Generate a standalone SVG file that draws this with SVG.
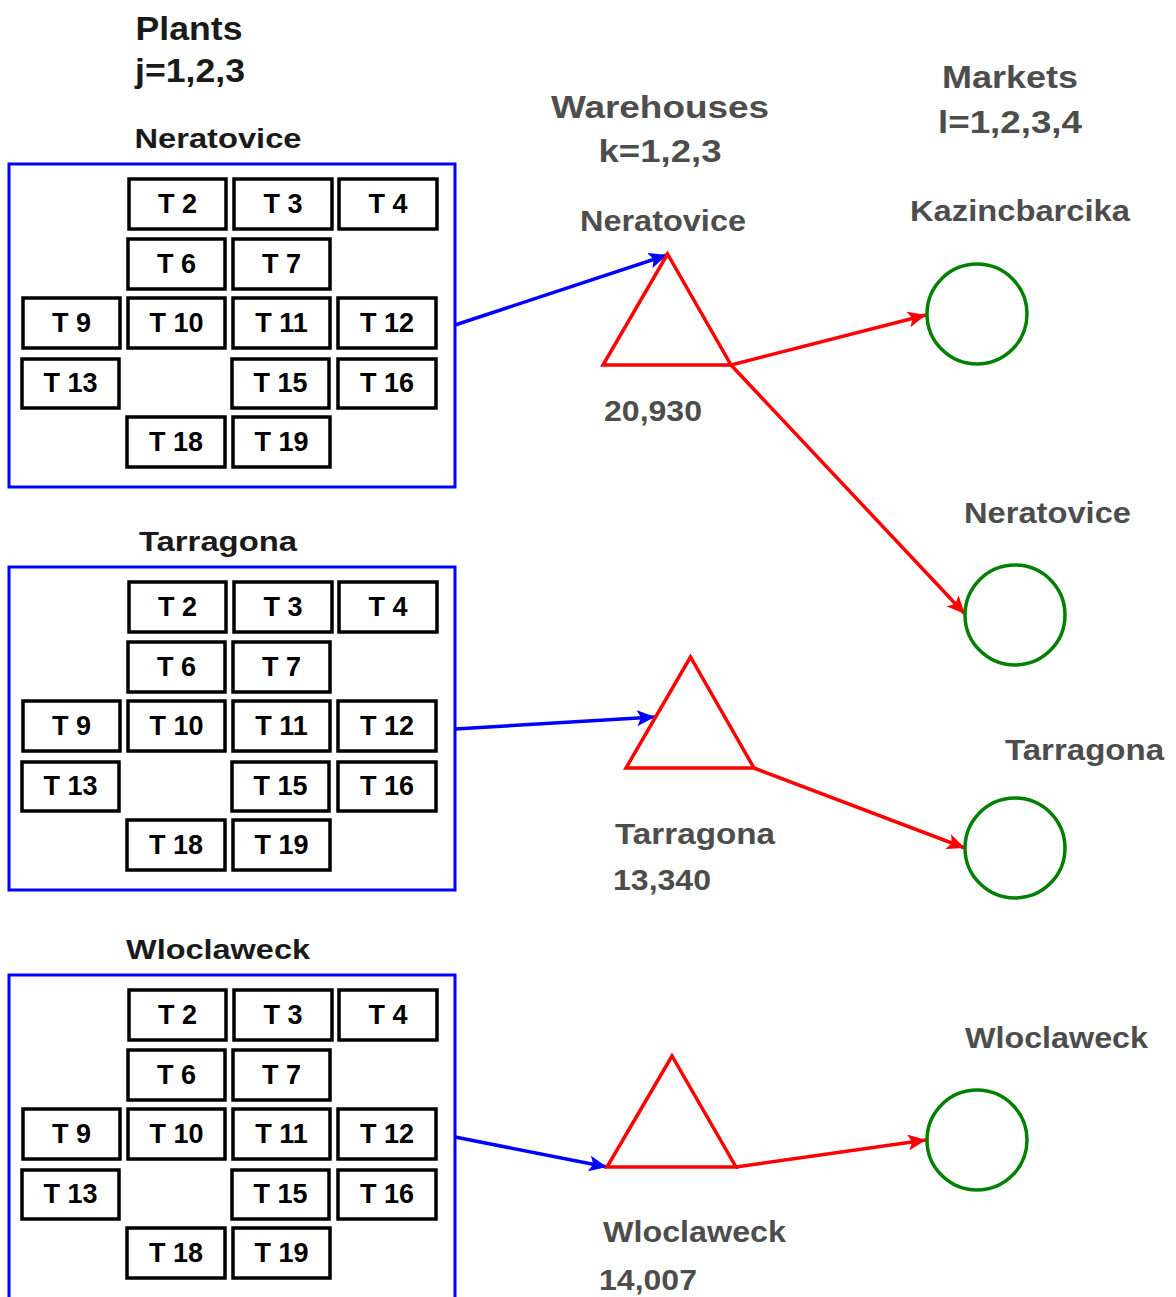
<svg xmlns="http://www.w3.org/2000/svg" width="1176" height="1297" viewBox="0 0 1176 1297">
<style>
text{font-family:"Liberation Sans",Arial,sans-serif;font-weight:bold;}
.title{font-size:33px;fill:#1a1a1a;text-anchor:middle;}
.ptitle{font-size:28px;fill:#1a1a1a;text-anchor:middle;}
.glab{font-size:29px;fill:#4d4d4d;text-anchor:middle;}
.gtitle{font-size:32px;fill:#4d4d4d;text-anchor:middle;}
.plant{fill:#fff;stroke:#0000ff;stroke-width:3;}
.task rect{fill:#fff;stroke:#000;stroke-width:3.5;}
.task text{font-size:27px;fill:#000;text-anchor:middle;}
.wh{fill:none;stroke:#ff0000;stroke-width:3.5;stroke-linejoin:miter;}
.mk{fill:none;stroke:#008000;stroke-width:3.5;}
.blue{stroke:#0000ff;stroke-width:3.5;fill:none;marker-end:url(#ab);}
.red{stroke:#ff0000;stroke-width:3.5;fill:none;marker-end:url(#ar);}
</style>
<defs>
<marker id="ab" markerUnits="userSpaceOnUse" markerWidth="20" markerHeight="16" refX="18" refY="8" orient="auto"><path d="M0,0 L18,8 L0,16 L4,8 z" fill="#0000ff"/></marker>
<marker id="ar" markerUnits="userSpaceOnUse" markerWidth="20" markerHeight="16" refX="18" refY="8" orient="auto"><path d="M0,0 L18,8 L0,16 L4,8 z" fill="#ff0000"/></marker>
<g id="tasks">
<g class="task"><rect x="129" y="179" width="97" height="50"/><text x="177.5" y="213">T 2</text></g>
<g class="task"><rect x="234" y="179" width="98" height="50"/><text x="283" y="213">T 3</text></g>
<g class="task"><rect x="339" y="179" width="98" height="50"/><text x="388" y="213">T 4</text></g>
<g class="task"><rect x="128" y="239" width="97" height="50"/><text x="176.5" y="273">T 6</text></g>
<g class="task"><rect x="233" y="239" width="97" height="50"/><text x="281.5" y="273">T 7</text></g>
<g class="task"><rect x="23" y="298" width="97" height="50"/><text x="71.5" y="332">T 9</text></g>
<g class="task"><rect x="128" y="298" width="97" height="50"/><text x="176.5" y="332">T 10</text></g>
<g class="task"><rect x="233" y="298" width="97" height="50"/><text x="281.5" y="332">T 11</text></g>
<g class="task"><rect x="338" y="298" width="98" height="50"/><text x="387" y="332">T 12</text></g>
<g class="task"><rect x="22" y="359" width="97" height="49"/><text x="70.5" y="392">T 13</text></g>
<g class="task"><rect x="232" y="359" width="97" height="49"/><text x="280.5" y="392">T 15</text></g>
<g class="task"><rect x="338" y="359" width="98" height="49"/><text x="387" y="392">T 16</text></g>
<g class="task"><rect x="127" y="417" width="98" height="50"/><text x="176" y="451">T 18</text></g>
<g class="task"><rect x="233" y="417" width="97" height="50"/><text x="281.5" y="451">T 19</text></g>
</g>
</defs>

<g id="headers">
<text class="title" x="189" y="40" textLength="107" lengthAdjust="spacingAndGlyphs">Plants</text>
<text class="title" x="190" y="82" textLength="110" lengthAdjust="spacingAndGlyphs">j=1,2,3</text>
<text class="gtitle" x="660" y="118" textLength="218" lengthAdjust="spacingAndGlyphs">Warehouses</text>
<text class="gtitle" x="660" y="162" textLength="123" lengthAdjust="spacingAndGlyphs">k=1,2,3</text>
<text class="gtitle" x="1010" y="88" textLength="136" lengthAdjust="spacingAndGlyphs">Markets</text>
<text class="gtitle" x="1010" y="133" textLength="144" lengthAdjust="spacingAndGlyphs">l=1,2,3,4</text>
</g>

<g id="plant-neratovice">
<text class="ptitle" x="218" y="148" textLength="167" lengthAdjust="spacingAndGlyphs">Neratovice</text>
<rect class="plant" x="9" y="164" width="446" height="323"/>
<use href="#tasks"/>
</g>
<g id="plant-tarragona">
<text class="ptitle" x="218" y="551" textLength="158" lengthAdjust="spacingAndGlyphs">Tarragona</text>
<rect class="plant" x="9" y="567" width="446" height="323"/>
<use href="#tasks" transform="translate(0,403)"/>
</g>
<g id="plant-wloclaweck">
<text class="ptitle" x="218" y="959" textLength="184" lengthAdjust="spacingAndGlyphs">Wloclaweck</text>
<rect class="plant" x="9" y="975" width="446" height="325"/>
<use href="#tasks" transform="translate(0,811)"/>
</g>

<g id="connectors">
<line class="blue" x1="455" y1="325" x2="667" y2="255"/>
<line class="blue" x1="455" y1="729" x2="655" y2="717"/>
<line class="blue" x1="455" y1="1137" x2="607" y2="1167"/>
<line class="red" x1="731" y1="365" x2="926" y2="315"/>
<line class="red" x1="731" y1="365" x2="965" y2="614"/>
<line class="red" x1="754" y1="768" x2="965" y2="848"/>
<line class="red" x1="736" y1="1167" x2="926" y2="1140"/>
</g>

<g id="warehouse-neratovice">
<text class="glab" x="663" y="231" textLength="166" lengthAdjust="spacingAndGlyphs">Neratovice</text>
<polygon class="wh" points="667.5,254 603,365 731,365"/>
<text class="glab" x="653" y="421" textLength="98" lengthAdjust="spacingAndGlyphs">20,930</text>
</g>
<g id="warehouse-tarragona">
<polygon class="wh" points="690.5,657 626,768 754,768"/>
<text class="glab" x="695" y="844" textLength="160" lengthAdjust="spacingAndGlyphs">Tarragona</text>
<text class="glab" x="662" y="890" textLength="98" lengthAdjust="spacingAndGlyphs">13,340</text>
</g>
<g id="warehouse-wloclaweck">
<polygon class="wh" points="672,1056 607,1167 736,1167"/>
<text class="glab" x="694.5" y="1242" textLength="183" lengthAdjust="spacingAndGlyphs">Wloclaweck</text>
<text class="glab" x="648" y="1290" textLength="98" lengthAdjust="spacingAndGlyphs">14,007</text>
</g>

<g id="market-kazincbarcika">
<text class="glab" x="1020" y="221" textLength="220" lengthAdjust="spacingAndGlyphs">Kazincbarcika</text>
<circle class="mk" cx="977" cy="314" r="50"/>
</g>
<g id="market-neratovice">
<text class="glab" x="1047.5" y="523" textLength="167" lengthAdjust="spacingAndGlyphs">Neratovice</text>
<circle class="mk" cx="1015" cy="615" r="50"/>
</g>
<g id="market-tarragona">
<text class="glab" x="1084.5" y="760" textLength="159" lengthAdjust="spacingAndGlyphs">Tarragona</text>
<circle class="mk" cx="1015" cy="848" r="50"/>
</g>
<g id="market-wloclaweck">
<text class="glab" x="1056.5" y="1048" textLength="183" lengthAdjust="spacingAndGlyphs">Wloclaweck</text>
<circle class="mk" cx="977" cy="1140" r="50"/>
</g>
</svg>
